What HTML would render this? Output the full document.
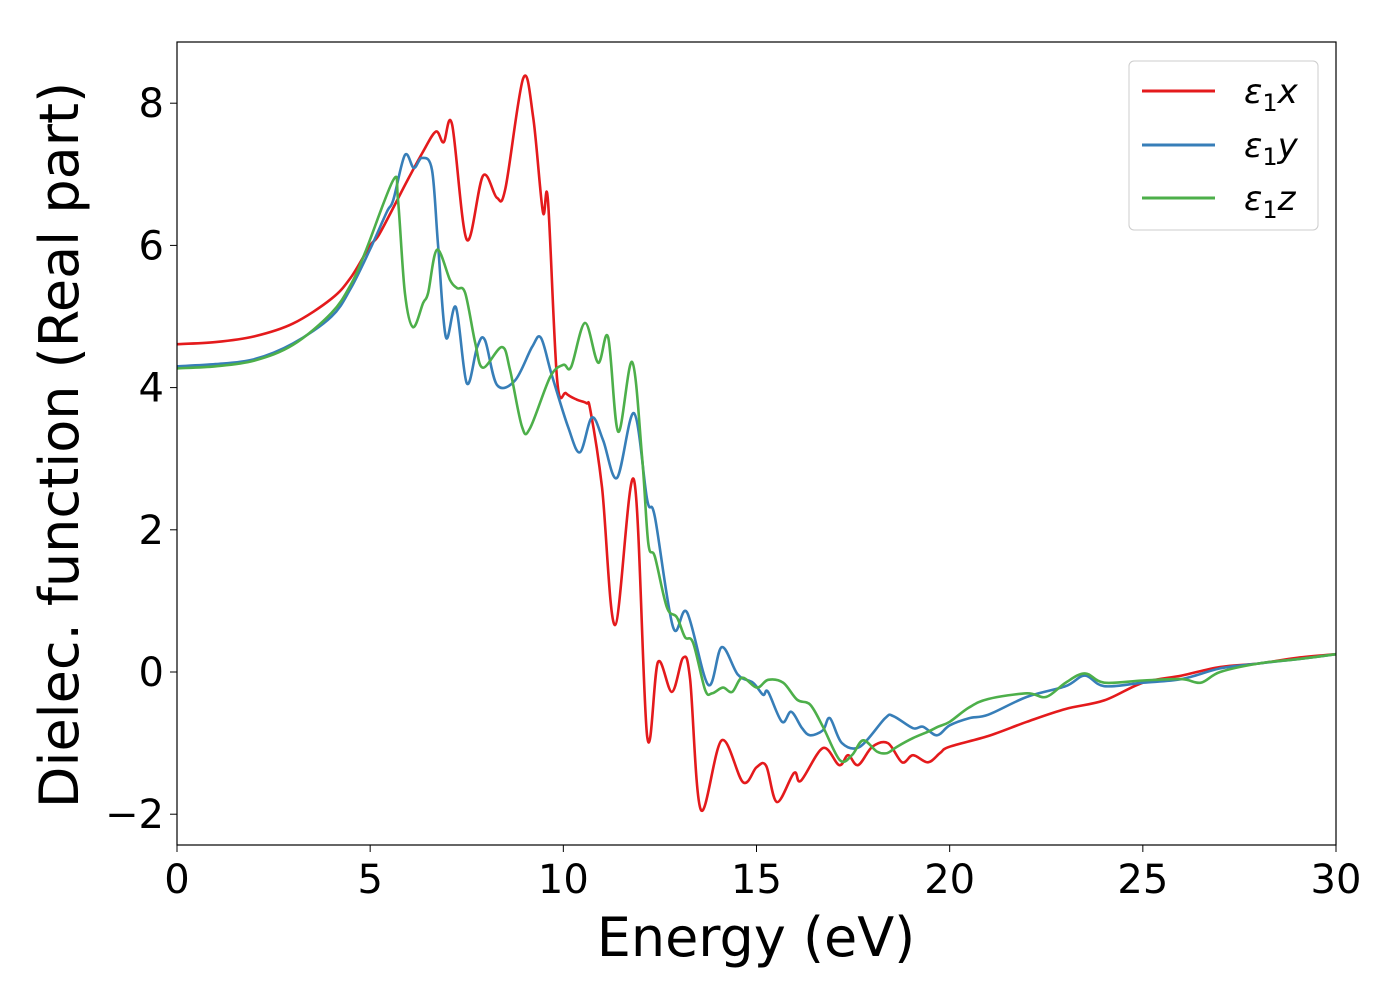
<!DOCTYPE html>
<html><head><meta charset="utf-8"><style>
body{margin:0;background:#fff}
svg text{font-family:"DejaVu Sans","Liberation Sans",sans-serif;fill:#000}
</style></head><body>
<svg id="chart" width="1400" height="1000" viewBox="0 0 1400 1000" xmlns="http://www.w3.org/2000/svg">
<g id="series"></g>
<rect x="177" y="42" width="1159" height="803" fill="none" stroke="#000" stroke-width="1.2"/>
<g id="xticks"></g>
<g id="yticks"></g>
<text x="756" y="956" font-size="54" text-anchor="middle">Energy (eV)</text>
<text transform="translate(78,445) rotate(-90)" font-size="54" text-anchor="middle">Dielec. function (Real part)</text>
<g>
<rect x="1129" y="61" width="189" height="169" rx="5" fill="#fff" stroke="#ccc" stroke-width="1"/>
<line x1="1142" y1="91" x2="1215" y2="91" stroke="#e41a1c" stroke-width="3"/>
<text x="1244" y="103" font-size="34" font-style="italic">ε<tspan font-size="24" font-style="normal" dy="8">1</tspan><tspan dy="-8">x</tspan></text>
<line x1="1142" y1="145" x2="1215" y2="145" stroke="#377eb8" stroke-width="3"/>
<text x="1244" y="157" font-size="34" font-style="italic">ε<tspan font-size="24" font-style="normal" dy="8">1</tspan><tspan dy="-8">y</tspan></text>
<line x1="1142" y1="198" x2="1215" y2="198" stroke="#4daf4a" stroke-width="3"/>
<text x="1244" y="210" font-size="34" font-style="italic">ε<tspan font-size="24" font-style="normal" dy="8">1</tspan><tspan dy="-8">z</tspan></text>
</g>
</svg>
<script>
const xTicks=[0,5,10,15,20,25,30];
const yTicks=[-2,0,2,4,6,8];
const yTickLabels=["−2","0","2","4","6","8"];
const eX=[0,1,2,3,4,4.5,5,5.25,5.95,6.35,6.7,6.9,7.12,7.5,7.92,8.28,8.5,8.96,9.22,9.47,9.6,9.84,10.07,10.35,10.6,10.7,11.0,11.34,11.83,12.17,12.45,12.81,13.1,13.28,13.56,14.1,14.65,15.0,15.25,15.53,15.97,16.15,16.72,17.14,17.37,17.63,18.0,18.4,18.77,19.05,19.44,19.75,20,21,22,23,24,25,26,27,28,29,30];
const vX=[4.61,4.64,4.72,4.9,5.25,5.55,6.0,6.17,6.9,7.3,7.6,7.45,7.7,6.08,6.98,6.67,6.8,8.35,7.8,6.47,6.64,4.1,3.92,3.83,3.78,3.68,2.6,0.66,2.7,-0.91,0.14,-0.28,0.2,-0.1,-1.94,-0.96,-1.55,-1.34,-1.32,-1.83,-1.42,-1.53,-1.07,-1.31,-1.17,-1.31,-1.05,-1.0,-1.27,-1.17,-1.27,-1.14,-1.05,-0.9,-0.7,-0.52,-0.4,-0.15,-0.05,0.07,0.12,0.2,0.25];
const eY=[0,1,2,3,4,4.5,5,5.43,5.6,5.9,6.13,6.34,6.6,6.76,6.96,7.22,7.5,7.77,7.97,8.28,8.75,9.19,9.42,9.7,10.12,10.43,10.74,11.03,11.39,11.83,12.17,12.37,12.84,13.2,13.75,14.1,14.52,14.91,15.17,15.3,15.66,15.9,16.18,16.39,16.72,16.9,17.21,17.68,18.33,18.54,19.05,19.31,19.67,20,20.5,21,22,23,23.5,24,25,26,27,28,29,30];
const vY=[4.3,4.33,4.4,4.62,5.0,5.4,5.95,6.47,6.64,7.27,7.09,7.23,7.06,5.98,4.71,5.13,4.06,4.57,4.67,4.04,4.1,4.57,4.7,4.18,3.45,3.09,3.58,3.26,2.73,3.64,2.42,2.18,0.63,0.84,-0.18,0.35,-0.04,-0.15,-0.32,-0.28,-0.7,-0.56,-0.79,-0.89,-0.82,-0.65,-1.0,-1.05,-0.65,-0.62,-0.79,-0.77,-0.89,-0.75,-0.65,-0.6,-0.35,-0.2,-0.05,-0.2,-0.15,-0.1,0.05,0.12,0.18,0.25];
const eZ=[0,1,2,3,4,4.5,4.87,5.6,5.72,5.9,6.11,6.37,6.5,6.73,7.07,7.25,7.46,7.72,7.92,8.41,8.62,8.93,9.14,9.66,10.0,10.2,10.56,10.9,11.16,11.42,11.78,12.04,12.2,12.37,12.68,12.94,13.15,13.36,13.67,13.85,14.13,14.37,14.63,15.01,15.3,15.69,16.05,16.39,16.72,17.16,17.47,17.76,18.12,18.38,18.64,19.05,19.44,19.7,20,20.5,21,22,22.5,23,23.5,24,25,26,26.5,27,28,29,30];
const vZ=[4.27,4.3,4.38,4.6,5.05,5.45,5.9,6.92,6.64,5.33,4.85,5.19,5.33,5.94,5.51,5.4,5.33,4.63,4.28,4.57,4.25,3.45,3.43,4.15,4.32,4.29,4.91,4.35,4.71,3.38,4.36,3.02,1.81,1.62,0.91,0.77,0.49,0.41,-0.25,-0.3,-0.22,-0.28,-0.08,-0.22,-0.11,-0.15,-0.39,-0.46,-0.77,-1.24,-1.17,-0.96,-1.12,-1.14,-1.05,-0.93,-0.84,-0.77,-0.7,-0.5,-0.38,-0.3,-0.35,-0.15,-0.02,-0.15,-0.12,-0.1,-0.15,0.0,0.12,0.18,0.25];
const NS="http://www.w3.org/2000/svg";
function xs(e){return 177+e*(1159/30);}
function ys(v){return 672-v*71.1;}
function smooth(E,V){
  const p=E.map((e,i)=>[xs(e),ys(V[i])]);
  let d="M"+p[0][0].toFixed(1)+","+p[0][1].toFixed(1);
  for(let i=0;i<p.length-1;i++){
    const p0=p[Math.max(0,i-1)],p1=p[i],p2=p[i+1],p3=p[Math.min(p.length-1,i+2)];
    const c1=[p1[0]+(p2[0]-p0[0])/6,p1[1]+(p2[1]-p0[1])/6];
    const c2=[p2[0]-(p3[0]-p1[0])/6,p2[1]-(p3[1]-p1[1])/6];
    d+="C"+c1[0].toFixed(1)+","+c1[1].toFixed(1)+" "+c2[0].toFixed(1)+","+c2[1].toFixed(1)+" "+p2[0].toFixed(1)+","+p2[1].toFixed(1);
  }
  return d;
}
const g=document.getElementById("series");
[[eX,vX,"#e41a1c","series-eps1-x"],[eY,vY,"#377eb8","series-eps1-y"],[eZ,vZ,"#4daf4a","series-eps1-z"]].forEach(s=>{
  const path=document.createElementNS(NS,"path");
  path.setAttribute("d",smooth(s[0],s[1]));
  path.setAttribute("fill","none");
  path.setAttribute("stroke",s[2]);
  path.setAttribute("stroke-width","2.6");
  
  
  g.appendChild(path);
});
const gx=document.getElementById("xticks");
xTicks.forEach(t=>{
  const l=document.createElementNS(NS,"line");
  l.setAttribute("x1",xs(t));l.setAttribute("x2",xs(t));l.setAttribute("y1",845);l.setAttribute("y2",852);l.setAttribute("stroke","#000");
  
  
  gx.appendChild(l);
  const tx=document.createElementNS(NS,"text");
  tx.setAttribute("x",xs(t));tx.setAttribute("y",893);tx.setAttribute("font-size","40");tx.setAttribute("text-anchor","middle");
  tx.textContent=t;
  
  
  gx.appendChild(tx);
});
const gy=document.getElementById("yticks");
yTicks.forEach((t,i)=>{
  const l=document.createElementNS(NS,"line");
  l.setAttribute("x1",170);l.setAttribute("x2",177);l.setAttribute("y1",ys(t));l.setAttribute("y2",ys(t));l.setAttribute("stroke","#000");
  
  
  gy.appendChild(l);
  const tx=document.createElementNS(NS,"text");
  tx.setAttribute("x",164);tx.setAttribute("y",ys(t)+14);tx.setAttribute("font-size","40");tx.setAttribute("text-anchor","end");
  tx.textContent=yTickLabels[i];
  
  
  gy.appendChild(tx);
});
</script>
</body></html>
